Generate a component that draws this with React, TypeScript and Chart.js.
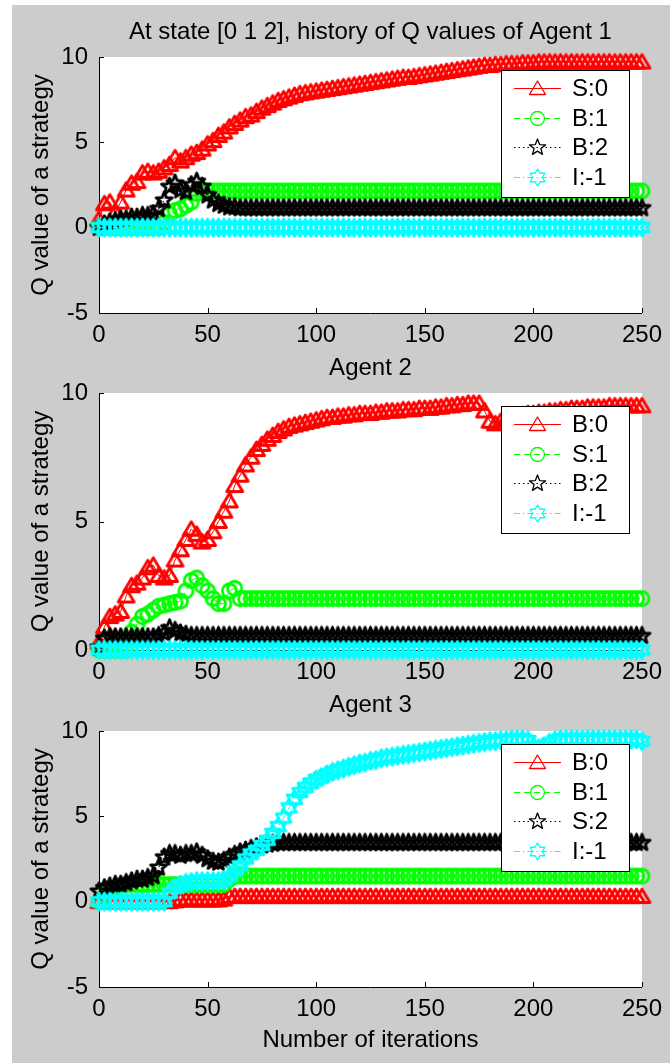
import React, { useEffect, useRef } from 'react';
import { Chart, registerables } from 'chart.js';

Chart.register(...registerables);

const FONT = "'Liberation Sans', Arial, Helvetica, sans-serif";

// iteration grid (sampled every 2.5 iterations)
const ITER = [
  0, 2.5, 5, 7.5, 10, 12.5, 15, 17.5, 20, 22.5,
  25, 27.5, 30, 32.5, 35, 37.5, 40, 42.5, 45, 47.5,
  50, 52.5, 55, 57.5, 60, 62.5, 65, 67.5, 70, 72.5,
  75, 77.5, 80, 82.5, 85, 87.5, 90, 92.5, 95, 97.5,
  100, 102.5, 105, 107.5, 110, 112.5, 115, 117.5, 120, 122.5,
  125, 127.5, 130, 132.5, 135, 137.5, 140, 142.5, 145, 147.5,
  150, 152.5, 155, 157.5, 160, 162.5, 165, 167.5, 170, 172.5,
  175, 177.5, 180, 182.5, 185, 187.5, 190, 192.5, 195, 197.5,
  200, 202.5, 205, 207.5, 210, 212.5, 215, 217.5, 220, 222.5,
  225, 227.5, 230, 232.5, 235, 237.5, 240, 242.5, 245, 247.5,
  250,
];

const X_TICKS = [0, 50, 100, 150, 200, 250];
const Y_TICKS_FULL = [-5, 0, 5, 10];
const Y_TICKS_POS = [0, 5, 10];

// ---------- Agent 1 ----------
const A1_LABELS = ['S:0', 'B:1', 'B:2', 'I:-1'];
const A1_S0 = [
  0.5, 1.4, 1.5, 0.9, 1.5, 2.2, 2.6, 2.7, 3.2, 3.3,
  3.2, 3.3, 3.5, 3.7, 4.1, 3.9, 4.1, 4.3, 4.4, 4.6,
  4.9, 5.1, 5.4, 5.6, 5.9, 6.1, 6.3, 6.5, 6.6, 6.8,
  7.0, 7.15, 7.3, 7.45, 7.55, 7.65, 7.75, 7.85, 7.9, 7.95,
  8.0, 8.05, 8.1, 8.15, 8.2, 8.25, 8.3, 8.35, 8.4, 8.45,
  8.5, 8.55, 8.6, 8.65, 8.7, 8.75, 8.8, 8.8, 8.85, 8.9,
  8.95, 9.0, 9.05, 9.1, 9.15, 9.2, 9.25, 9.3, 9.35, 9.4,
  9.45, 9.5, 9.5, 9.55, 9.55, 9.6, 9.6, 9.6, 9.65, 9.65,
  9.65, 9.7, 9.7, 9.7, 9.7, 9.7, 9.7, 9.7, 9.7, 9.7,
  9.7, 9.7, 9.7, 9.7, 9.7, 9.7, 9.7, 9.7, 9.7, 9.7,
  9.7,
];
const A1_B1 = [
  0, 0, 0, 0, 0, 0, 0, 0, 0, 0,
  0, 0, 0.3, 0.8, 1.0, 1.1, 1.3, 1.5, 2.0, 2.2,
  2.15, 2.15, 2.15, 2.15, 2.15, 2.15, 2.15, 2.15, 2.15, 2.15,
  2.15, 2.15, 2.15, 2.15, 2.15, 2.15, 2.15, 2.15, 2.15, 2.15,
  2.15, 2.15, 2.15, 2.15, 2.15, 2.15, 2.15, 2.15, 2.15, 2.15,
  2.15, 2.15, 2.15, 2.15, 2.15, 2.15, 2.15, 2.15, 2.15, 2.15,
  2.15, 2.15, 2.15, 2.15, 2.15, 2.15, 2.15, 2.15, 2.15, 2.15,
  2.15, 2.15, 2.15, 2.15, 2.15, 2.15, 2.15, 2.15, 2.15, 2.15,
  2.15, 2.15, 2.15, 2.15, 2.15, 2.15, 2.15, 2.15, 2.15, 2.15,
  2.15, 2.15, 2.15, 2.15, 2.15, 2.15, 2.15, 2.15, 2.15, 2.15,
  2.15,
];
const A1_B2 = [
  0, 0.2, 0.3, 0.4, 0.5, 0.5, 0.6, 0.6, 0.7, 0.7,
  0.8, 1.1, 1.6, 2.4, 2.6, 2.2, 2.1, 2.5, 2.7, 2.4,
  1.9, 1.6, 1.4, 1.3, 1.2, 1.2, 1.15, 1.15, 1.15, 1.15,
  1.15, 1.15, 1.15, 1.15, 1.15, 1.15, 1.15, 1.15, 1.15, 1.15,
  1.15, 1.15, 1.15, 1.15, 1.15, 1.15, 1.15, 1.15, 1.15, 1.15,
  1.15, 1.15, 1.15, 1.15, 1.15, 1.15, 1.15, 1.15, 1.15, 1.15,
  1.15, 1.15, 1.15, 1.15, 1.15, 1.15, 1.15, 1.15, 1.15, 1.15,
  1.15, 1.15, 1.15, 1.15, 1.15, 1.15, 1.15, 1.15, 1.15, 1.15,
  1.15, 1.15, 1.15, 1.15, 1.15, 1.15, 1.15, 1.15, 1.15, 1.15,
  1.15, 1.15, 1.15, 1.15, 1.15, 1.15, 1.15, 1.15, 1.15, 1.15,
  1.15,
];
const A1_I = [
  0, 0, 0, 0, 0, 0, 0, 0, 0, 0,
  0, 0, 0, 0, 0, 0, 0, 0, 0, 0,
  0, 0, 0, 0, 0, 0, 0, 0, 0, 0,
  0, 0, 0, 0, 0, 0, 0, 0, 0, 0,
  0, 0, 0, 0, 0, 0, 0, 0, 0, 0,
  0, 0, 0, 0, 0, 0, 0, 0, 0, 0,
  0, 0, 0, 0, 0, 0, 0, 0, 0, 0,
  0, 0, 0, 0, 0, 0, 0, 0, 0, 0,
  0, 0, 0, 0, 0, 0, 0, 0, 0, 0,
  0, 0, 0, 0, 0, 0, 0, 0, 0, 0,
  0,
];

// ---------- Agent 2 ----------
const A2_LABELS = ['B:0', 'S:1', 'B:2', 'I:-1'];
const A2_B0 = [
  0.3, 0.9, 1.3, 1.4, 1.5, 2.1, 2.5, 2.6, 2.8, 3.2,
  3.3, 2.9, 2.8, 2.9, 3.5, 3.9, 4.3, 4.7, 4.5, 4.2,
  4.3, 4.6, 5.0, 5.4, 5.8, 6.4, 6.8, 7.2, 7.5, 7.8,
  8.0, 8.2, 8.35, 8.5, 8.6, 8.7, 8.75, 8.8, 8.85, 8.9,
  8.95, 9.0, 9.05, 9.05, 9.1, 9.1, 9.15, 9.15, 9.2, 9.2,
  9.2, 9.25, 9.25, 9.3, 9.3, 9.3, 9.35, 9.35, 9.35, 9.4,
  9.4, 9.4, 9.45, 9.45, 9.5, 9.5, 9.55, 9.55, 9.6, 9.6,
  9.6, 9.3, 8.9, 8.8, 8.9, 9.0, 9.05, 9.1, 9.15, 9.2,
  9.2, 9.25, 9.25, 9.3, 9.3, 9.35, 9.35, 9.4, 9.4, 9.4,
  9.45, 9.45, 9.45, 9.45, 9.5, 9.5, 9.5, 9.5, 9.5, 9.5,
  9.5,
];
const A2_S1 = [
  0, 0, 0, 0, 0, 0, 0.7, 1.0, 1.3, 1.4,
  1.55, 1.7, 1.75, 1.8, 1.85, 1.9, 2.3, 2.7, 2.8, 2.5,
  2.3, 2.0, 1.8, 1.8, 2.3, 2.4, 2.0, 2.0, 2.0, 2.0,
  2.0, 2.0, 2.0, 2.0, 2.0, 2.0, 2.0, 2.0, 2.0, 2.0,
  2.0, 2.0, 2.0, 2.0, 2.0, 2.0, 2.0, 2.0, 2.0, 2.0,
  2.0, 2.0, 2.0, 2.0, 2.0, 2.0, 2.0, 2.0, 2.0, 2.0,
  2.0, 2.0, 2.0, 2.0, 2.0, 2.0, 2.0, 2.0, 2.0, 2.0,
  2.0, 2.0, 2.0, 2.0, 2.0, 2.0, 2.0, 2.0, 2.0, 2.0,
  2.0, 2.0, 2.0, 2.0, 2.0, 2.0, 2.0, 2.0, 2.0, 2.0,
  2.0, 2.0, 2.0, 2.0, 2.0, 2.0, 2.0, 2.0, 2.0, 2.0,
  2.0,
];
const A2_B2 = [
  0.1, 0.45, 0.5, 0.5, 0.5, 0.5, 0.5, 0.5, 0.5, 0.5,
  0.5, 0.55, 0.65, 0.85, 0.75, 0.65, 0.6, 0.55, 0.55, 0.55,
  0.55, 0.55, 0.55, 0.55, 0.55, 0.55, 0.55, 0.55, 0.55, 0.55,
  0.55, 0.55, 0.55, 0.55, 0.55, 0.55, 0.55, 0.55, 0.55, 0.55,
  0.55, 0.55, 0.55, 0.55, 0.55, 0.55, 0.55, 0.55, 0.55, 0.55,
  0.55, 0.55, 0.55, 0.55, 0.55, 0.55, 0.55, 0.55, 0.55, 0.55,
  0.55, 0.55, 0.55, 0.55, 0.55, 0.55, 0.55, 0.55, 0.55, 0.55,
  0.55, 0.55, 0.55, 0.55, 0.55, 0.55, 0.55, 0.55, 0.55, 0.55,
  0.55, 0.55, 0.55, 0.55, 0.55, 0.55, 0.55, 0.55, 0.55, 0.55,
  0.55, 0.55, 0.55, 0.55, 0.55, 0.55, 0.55, 0.55, 0.55, 0.55,
  0.55,
];
const A2_I = [
  0, 0, 0, 0, 0, 0, 0, 0, 0, 0,
  0, 0, 0, 0, 0, 0, 0, 0, 0, 0,
  0, 0, 0, 0, 0, 0, 0, 0, 0, 0,
  0, 0, 0, 0, 0, 0, 0, 0, 0, 0,
  0, 0, 0, 0, 0, 0, 0, 0, 0, 0,
  0, 0, 0, 0, 0, 0, 0, 0, 0, 0,
  0, 0, 0, 0, 0, 0, 0, 0, 0, 0,
  0, 0, 0, 0, 0, 0, 0, 0, 0, 0,
  0, 0, 0, 0, 0, 0, 0, 0, 0, 0,
  0, 0, 0, 0, 0, 0, 0, 0, 0, 0,
  0,
];

// ---------- Agent 3 ----------
const A3_LABELS = ['B:0', 'B:1', 'S:2', 'I:-1'];
const A3_B0 = [
  0, 0, 0, 0, 0, 0, 0, 0, 0, 0,
  0, 0, 0, 0, 0.05, 0.1, 0.1, 0.1, 0.1, 0.1,
  0.1, 0.1, 0.1, 0.15, 0.3, 0.3, 0.3, 0.3, 0.3, 0.3,
  0.3, 0.3, 0.3, 0.3, 0.3, 0.3, 0.3, 0.3, 0.3, 0.3,
  0.3, 0.3, 0.3, 0.3, 0.3, 0.3, 0.3, 0.3, 0.3, 0.3,
  0.3, 0.3, 0.3, 0.3, 0.3, 0.3, 0.3, 0.3, 0.3, 0.3,
  0.3, 0.3, 0.3, 0.3, 0.3, 0.3, 0.3, 0.3, 0.3, 0.3,
  0.3, 0.3, 0.3, 0.3, 0.3, 0.3, 0.3, 0.3, 0.3, 0.3,
  0.3, 0.3, 0.3, 0.3, 0.3, 0.3, 0.3, 0.3, 0.3, 0.3,
  0.3, 0.3, 0.3, 0.3, 0.3, 0.3, 0.3, 0.3, 0.3, 0.3,
  0.3,
];
const A3_B1 = [
  0, 0.3, 0.6, 0.8, 0.95, 1.0, 1.0, 1.0, 1.0, 1.0,
  1.0, 1.0, 1.0, 1.0, 1.0, 1.0, 1.0, 1.0, 1.0, 1.0,
  1.0, 1.0, 1.0, 1.0, 1.3, 1.5, 1.5, 1.5, 1.5, 1.5,
  1.5, 1.5, 1.5, 1.5, 1.5, 1.5, 1.5, 1.5, 1.5, 1.5,
  1.5, 1.5, 1.5, 1.5, 1.5, 1.5, 1.5, 1.5, 1.5, 1.5,
  1.5, 1.5, 1.5, 1.5, 1.5, 1.5, 1.5, 1.5, 1.5, 1.5,
  1.5, 1.5, 1.5, 1.5, 1.5, 1.5, 1.5, 1.5, 1.5, 1.5,
  1.5, 1.5, 1.5, 1.5, 1.5, 1.5, 1.5, 1.5, 1.5, 1.5,
  1.5, 1.5, 1.5, 1.5, 1.5, 1.5, 1.5, 1.5, 1.5, 1.5,
  1.5, 1.5, 1.5, 1.5, 1.5, 1.5, 1.5, 1.5, 1.5, 1.5,
  1.5,
];
const A3_S2 = [
  0.6, 0.8, 0.9, 1.0, 1.0, 1.1, 1.2, 1.3, 1.3, 1.4,
  1.5, 2.0, 2.6, 2.8, 2.8, 2.7, 2.8, 2.8, 2.9, 2.7,
  2.5, 2.35, 2.3, 2.4, 2.6, 2.75, 2.9, 3.0, 3.1, 3.2,
  3.3, 3.35, 3.4, 3.45, 3.45, 3.45, 3.45, 3.45, 3.45, 3.45,
  3.45, 3.45, 3.45, 3.45, 3.45, 3.45, 3.45, 3.45, 3.45, 3.45,
  3.45, 3.45, 3.45, 3.45, 3.45, 3.45, 3.45, 3.45, 3.45, 3.45,
  3.45, 3.45, 3.45, 3.45, 3.45, 3.45, 3.45, 3.45, 3.45, 3.45,
  3.45, 3.45, 3.45, 3.45, 3.45, 3.45, 3.45, 3.45, 3.45, 3.45,
  3.45, 3.45, 3.45, 3.45, 3.45, 3.45, 3.45, 3.45, 3.45, 3.45,
  3.45, 3.45, 3.45, 3.45, 3.45, 3.45, 3.45, 3.45, 3.45, 3.45,
  3.45,
];
const A3_I = [
  0, 0, 0, 0, 0, 0, 0, 0, 0, 0,
  0, 0, 0, 0.5, 0.8, 1.0, 1.1, 1.15, 1.2, 1.2,
  1.2, 1.2, 1.2, 1.25, 1.45, 1.8, 2.1, 2.5, 2.8, 3.0,
  3.3, 3.6, 4.0, 4.4, 4.9, 5.5, 6.0, 6.4, 6.7, 6.95,
  7.15, 7.3, 7.45, 7.6, 7.7, 7.8, 7.9, 8.0, 8.1, 8.15,
  8.25, 8.3, 8.4, 8.45, 8.5, 8.55, 8.6, 8.65, 8.7, 8.75,
  8.8, 8.85, 8.9, 8.95, 9.0, 9.05, 9.1, 9.15, 9.2, 9.25,
  9.3, 9.35, 9.4, 9.4, 9.45, 9.45, 9.5, 9.5, 9.5, 9.45,
  9.1, 9.0, 9.1, 9.3, 9.45, 9.5, 9.5, 9.5, 9.5, 9.5,
  9.5, 9.5, 9.5, 9.5, 9.5, 9.5, 9.5, 9.5, 9.5, 9.5,
  9.4,
];

const COLORS = ['#ff0000', '#00ff00', '#000000', '#00ffff'];
const MARKERS = ['triangle', 'circle', 'pentagram', 'hexagram'];
const DASHES = [[], [6, 4], [1.5, 3], [6, 3, 1.5, 3]];

const PANELS = [
  {
    top: 0, h: 350, title: 'At state [0 1 2], history of Q values of Agent 1',
    titlePad: { top: 17.6, bottom: 10.6 }, yMin: -5, yMax: 10, yTicks: Y_TICKS_FULL,
    xH: 37, xTitle: '', labels: A1_LABELS, series: [A1_S0, A1_B1, A1_B2, A1_I],
  },
  {
    top: 345, h: 340, title: 'Agent 2',
    titlePad: { top: 8.6, bottom: 10.6 }, yMin: 0, yMax: 10, yTicks: Y_TICKS_POS,
    xH: 35, xTitle: '', labels: A2_LABELS, series: [A2_B0, A2_S1, A2_B2, A2_I],
  },
  {
    top: 680, h: 383, title: 'Agent 3',
    titlePad: { top: 10.6, bottom: 11.6 }, yMin: -5, yMax: 10, yTicks: Y_TICKS_FULL,
    xH: 76, xTitle: 'Number of iterations', labels: A3_LABELS, series: [A3_B0, A3_B1, A3_S2, A3_I],
  },
];

function makeMarker(kind: string, color: string, lw: number): HTMLCanvasElement {
  const c = document.createElement('canvas');
  c.width = 21;
  c.height = 21;
  const g = c.getContext('2d')!;
  g.strokeStyle = color;
  g.lineWidth = lw;
  g.lineJoin = 'round';
  const cx = 10.5, cy = 10.5;
  g.beginPath();
  if (kind === 'triangle') {
    g.moveTo(cx, cy - 7.5);
    g.lineTo(cx + 8, cy + 6);
    g.lineTo(cx - 8, cy + 6);
    g.closePath();
  } else if (kind === 'circle') {
    g.arc(cx, cy, 7, 0, Math.PI * 2);
  } else {
    const n = kind === 'pentagram' ? 5 : 6;
    const ro = 8.5;
    const ri = n === 5 ? 3.6 : 4.9;
    for (let k = 0; k < 2 * n; k++) {
      const a = -Math.PI / 2 + (k * Math.PI) / n;
      const r = k % 2 === 0 ? ro : ri;
      const px = cx + r * Math.cos(a);
      const py = cy + r * Math.sin(a);
      if (k === 0) g.moveTo(px, py);
      else g.lineTo(px, py);
    }
    g.closePath();
  }
  g.stroke();
  return c;
}

function Panel({ cfg }: { cfg: any }) {
  const ref = useRef<HTMLCanvasElement>(null);
  useEffect(() => {
    const markers = MARKERS.map((m, i) => makeMarker(m, COLORS[i], 2.8));
    const legendMarkers = MARKERS.map((m, i) => makeMarker(m, COLORS[i], 1.3));
    const figPlugin = {
      id: 'fig',
      beforeDraw(chart: any) {
        const { ctx, chartArea: a } = chart;
        ctx.save();
        ctx.fillStyle = '#ffffff';
        ctx.fillRect(a.left, a.top, a.right - a.left, a.bottom - a.top);
        ctx.restore();
      },
      beforeDatasetsDraw(chart: any) {
        const { ctx, chartArea: a, scales } = chart;
        ctx.save();
        ctx.strokeStyle = '#000';
        ctx.lineWidth = 1;
        ctx.beginPath();
        X_TICKS.forEach((v) => {
          const px = Math.round(scales.x.getPixelForValue(v)) + 0.5;
          ctx.moveTo(px, a.bottom);
          ctx.lineTo(px, a.bottom - 5);
        });
        cfg.yTicks.forEach((v: number) => {
          const py = Math.round(scales.y.getPixelForValue(v)) + 0.5;
          ctx.moveTo(a.left, py);
          ctx.lineTo(a.left + 5, py);
        });
        ctx.stroke();
        ctx.restore();
      },
      afterDraw(chart: any) {
        const { ctx, chartArea: a } = chart;
        const bw = 128, bh = 127;
        const bx = Math.round(a.right - 13 - bw);
        const by = Math.round(a.top + 13);
        ctx.save();
        ctx.fillStyle = '#ffffff';
        ctx.fillRect(bx, by, bw, bh);
        ctx.strokeStyle = '#000';
        ctx.lineWidth = 1;
        ctx.setLineDash([]);
        ctx.strokeRect(bx + 0.5, by + 0.5, bw, bh);
        cfg.labels.forEach((lab: string, i: number) => {
          const y = Math.round(by + 18 + 29.7 * i) + 0.5;
          ctx.strokeStyle = COLORS[i];
          ctx.setLineDash(DASHES[i]);
          ctx.beginPath();
          ctx.moveTo(bx + 13, y);
          ctx.lineTo(bx + 60, y);
          ctx.stroke();
          ctx.setLineDash([]);
          const mk = legendMarkers[i];
          ctx.drawImage(mk, bx + 36.5 - mk.width / 2, y - mk.height / 2);
          ctx.fillStyle = '#000';
          ctx.font = `24px ${FONT}`;
          ctx.textBaseline = 'middle';
          ctx.textAlign = 'left';
          ctx.fillText(lab, bx + 71, y + 1);
        });
        ctx.restore();
      },
    };

    const datasets = cfg.series.map((vals: number[], i: number) => ({
      label: cfg.labels[i],
      data: ITER.map((x, k) => ({ x, y: vals[k] })),
      borderColor: COLORS[i],
      borderWidth: 1,
      borderDash: DASHES[i],
      pointStyle: markers[i],
      pointRadius: 5,
      pointHoverRadius: 5,
      pointBorderColor: COLORS[i],
      pointBackgroundColor: 'transparent',
      fill: false,
      tension: 0,
      clip: false,
      order: 4 - i,
    }));

    const tickFont = { family: FONT, size: 24, weight: 'normal' as const, lineHeight: 1.2 };
    const chart = new Chart(ref.current!, {
      type: 'line',
      data: { datasets },
      plugins: [figPlugin],
      options: {
        responsive: false,
        animation: false,
        devicePixelRatio: 1,
        layout: { padding: { left: 0, right: 23, top: 0, bottom: 0 } },
        plugins: {
          legend: { display: false },
          tooltip: { enabled: false },
          title: {
            display: true,
            text: cfg.title,
            fullSize: false,
            color: '#000',
            font: tickFont,
            padding: cfg.titlePad,
          },
        },
        scales: {
          x: {
            type: 'linear',
            min: 0,
            max: 250,
            grid: { display: false, drawTicks: false },
            border: { display: true, color: '#000', width: 1 },
            ticks: {
              stepSize: 50, color: '#000', font: tickFont, padding: 8,
              maxRotation: 0, autoSkip: false,
            },
            title: cfg.xTitle
              ? { display: true, text: cfg.xTitle, color: '#000', font: tickFont, padding: { top: 0, bottom: 8.6 } }
              : { display: false },
            afterFit: (s: any) => { s.height = cfg.xH; },
          },
          y: {
            type: 'linear',
            min: cfg.yMin,
            max: cfg.yMax,
            grid: { display: false, drawTicks: false },
            border: { display: true, color: '#000', width: 1 },
            ticks: { stepSize: 5, color: '#000', font: tickFont, padding: 11 },
            title: {
              display: true, text: 'Q value of a strategy', color: '#000',
              font: tickFont, padding: { top: 26.6, bottom: 0 },
            },
            afterFit: (s: any) => { s.width = 99; },
          },
        },
      } as any,
    });
    return () => chart.destroy();
  }, [cfg]);
  return (
    <canvas
      ref={ref}
      width={670}
      height={cfg.h}
      style={{ position: 'absolute', left: 0, top: cfg.top, width: 670, height: cfg.h }}
    />
  );
}

export default function App() {
  return (
    <div style={{ position: 'absolute', left: 0, top: 0, width: 670, height: 1063, background: '#ffffff', overflow: 'hidden' }}>
      <div style={{ position: 'absolute', left: 12, top: 5, width: 658, height: 1058, background: '#cccccc' }} />
      {PANELS.map((p, i) => (
        <Panel key={i} cfg={p} />
      ))}
    </div>
  );
}
